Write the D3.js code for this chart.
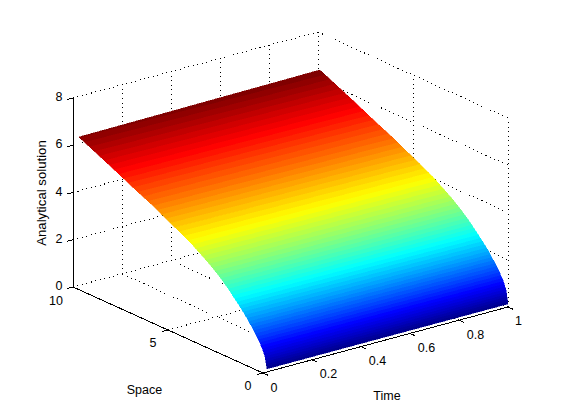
<!DOCTYPE html>
<html lang="en">
	<head>
		<meta charset="utf-8">
		<title>Analytical solution surface</title>
		<script src="https://d3js.org/d3.v7.min.js"></script>
		<style>
			body{margin:0;background:#fff;}
			svg{display:block;}
			text{font-family:"Liberation Sans",Arial,sans-serif;font-size:12.5px;fill:#000;}
		</style>
	</head>
	<body>
		<svg id="chart"></svg>
		<script>

			// values
			var spaceValues    = [0,0.1,0.25,0.5,1,1.5,2,2.5,3,4,5,6,7,8,9,9.9];
			var solutionStart  = [0.13,0.6,0.92,1.27,1.85,2.32,2.75,3.13,3.45,4.0,4.42,4.85,5.22,5.62,6.0,6.34];
			var solutionEnd    = [0.13,0.68,1.02,1.38,1.97,2.43,2.86,3.23,3.55,4.09,4.51,4.94,5.31,5.71,6.09,6.43];
			var timeRange      = [0.016,1];

			var timeTicks      = [0,0.2,0.4,0.6,0.8,1];
			var spaceTicks     = [0,5,10];
			var solutionTicks  = [0,2,4,6,8];
			var timeLabelPos   = [[274,392],[328.5,378],[377.5,365],[426.5,352],[475.5,339],[518.5,325]];
			var spaceLabelPos  = [[248,390],[153,347],[56,305]];

			var width=561;
			var height=420;
			var levels=64;

			var chart = d3.select("#chart")
				.attr("width",width)
				.attr("height",height);

			// oblique projection, one scale per data direction
			var timeX = d3.scaleLinear().domain([0,1]).range([0,245]);
			var timeY = d3.scaleLinear().domain([0,1]).range([0,-66]);
			var spaceX = d3.scaleLinear().domain([0,10]).range([263,73]);
			var spaceY = d3.scaleLinear().domain([0,10]).range([373,287]);
			var solutionY = d3.scaleLinear().domain([0,8]).range([0,-189]);

			function project(t,s,z){
				return [timeX(t)+spaceX(s),timeY(t)+spaceY(s)+solutionY(z)];
			}

			function drawLine(group,a,b){
				var p1=project(a[0],a[1],a[2]);
				var p2=project(b[0],b[1],b[2]);
				group.append("line")
					.attr("x1",p1[0]).attr("y1",p1[1])
					.attr("x2",p2[0]).attr("y2",p2[1]);
			}

			// dotted grid on the floor and the two back walls
			var grid = chart.append("g")
				.attr("stroke","#000")
				.attr("stroke-width",1)
				.attr("stroke-dasharray","1 3.6")
				.attr("shape-rendering","crispEdges");

			timeTicks.forEach(function(t){
				drawLine(grid,[t,0,0],[t,10,0]);
				drawLine(grid,[t,10,0],[t,10,8]);
			});
			spaceTicks.forEach(function(s){
				drawLine(grid,[0,s,0],[1,s,0]);
				drawLine(grid,[1,s,0],[1,s,8]);
			});
			solutionTicks.forEach(function(z){
				drawLine(grid,[0,10,z],[1,10,z]);
				drawLine(grid,[1,10,z],[1,0,z]);
			});

			// surface, cut into the 64 flat colour bands of the jet map
			var jet = d3.scaleLinear()
				.domain([0,0.125,0.375,0.625,0.875,1])
				.range(["#00008f","#0000ff","#00ffff","#ffff00","#ff0000","#800000"])
				.clamp(true);

			var zMin = d3.min(solutionStart);
			var zMax = d3.max(solutionEnd);
			var level = d3.scaleLinear().domain([0,levels]).range([zMin,zMax]);

			var spaceAtStart = d3.scaleLinear().domain(solutionStart).range(spaceValues).clamp(true);
			var spaceAtEnd = d3.scaleLinear().domain(solutionEnd).range(spaceValues).clamp(true);

			function startPoint(z){
				var s=spaceAtStart(z);
				return project(timeRange[0],s,Math.min(z,solutionStart[solutionStart.length-1]));
			}
			function endPoint(z){
				var s=spaceAtEnd(z);
				return project(timeRange[1],s,Math.min(z,solutionEnd[solutionEnd.length-1]));
			}

			chart.append("g")
				.attr("shape-rendering","crispEdges")
				.selectAll("polygon")
				.data(d3.range(levels))
				.enter()
				.append("polygon")
				.attr("fill",d=>jet(d/(levels-1)))
				.attr("stroke",d=>jet(d/(levels-1)))
				.attr("stroke-width",0.5)
				.attr("points",function(d){
					var lo=level(d);
					var hi=level(d+1);
					return [startPoint(lo),endPoint(lo),endPoint(hi),startPoint(hi)]
						.map(p=>p.join(",")).join(" ");
				});

			// solid axes and their ticks
			var axes = chart.append("g")
				.attr("stroke","#000")
				.attr("stroke-width",1)
				.attr("shape-rendering","crispEdges");

			drawLine(axes,[0,10,0],[0,10,8]);
			drawLine(axes,[0,10,0],[0,0,0]);
			drawLine(axes,[0,0,0],[1,0,0]);

			solutionTicks.forEach(function(z){
				drawLine(axes,[0,10,z],[-0.025,10,z]);
			});
			spaceTicks.forEach(function(s){
				drawLine(axes,[0,s,0],[-0.025,s,0]);
			});
			timeTicks.forEach(function(t){
				drawLine(axes,[t,0,0],[t,-0.25,0]);
			});

			// tick labels
			chart.append("g").selectAll("text")
				.data(solutionTicks)
				.enter()
				.append("text")
				.attr("x",62.5)
				.attr("y",d=>project(0,10,d)[1]+3)
				.attr("text-anchor","end")
				.text(d=>d);

			chart.append("g").selectAll("text")
				.data(spaceTicks)
				.enter()
				.append("text")
				.attr("x",(d,i)=>spaceLabelPos[i][0])
				.attr("y",(d,i)=>spaceLabelPos[i][1])
				.attr("text-anchor","middle")
				.text(d=>d);

			chart.append("g").selectAll("text")
				.data(timeTicks)
				.enter()
				.append("text")
				.attr("x",(d,i)=>timeLabelPos[i][0])
				.attr("y",(d,i)=>timeLabelPos[i][1])
				.attr("text-anchor","middle")
				.text(d=>d);

			// axis titles
			chart.append("text")
				.attr("x",144.5)
				.attr("y",394)
				.attr("text-anchor","middle")
				.text("Space");

			chart.append("text")
				.attr("x",387)
				.attr("y",400)
				.attr("text-anchor","middle")
				.text("Time");

			chart.append("text")
				.attr("transform","translate(46,193) rotate(-90)")
				.attr("text-anchor","middle")
				.style("font-size","13.2px")
				.text("Analytical solution");

		</script>
	</body>
</html>
